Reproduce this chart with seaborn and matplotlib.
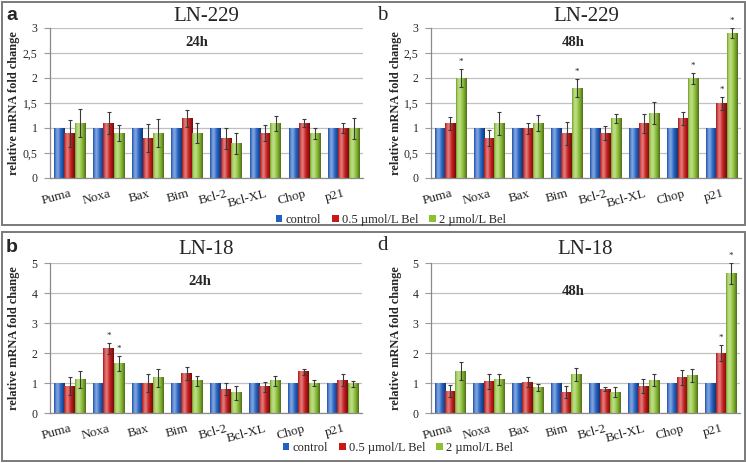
import numpy as np
import pandas as pd
import seaborn as sns
import matplotlib
matplotlib.use("Agg")
import matplotlib.pyplot as plt
from matplotlib.patches import Rectangle
from matplotlib.colors import to_rgb

# ---------------- data ----------------
genes = ["Puma", "Noxa", "Bax", "Bim", "Bcl-2", "Bcl-XL", "Chop", "p21"]
treatments = ["control", "0.5 µmol/L Bel", "2 µmol/L Bel"]
control_vals = [1, 1, 1, 1, 1, 1, 1, 1]

# panel a: LN-229 24h
a_red = [0.9, 1.1, 0.8, 1.2, 0.8, 0.9, 1.1, 1.0]
a_red_err = [0.27, 0.22, 0.28, 0.17, 0.21, 0.16, 0.08, 0.1]
a_green = [1.1, 0.9, 0.9, 0.9, 0.7, 1.1, 0.9, 1.0]
a_green_err = [0.28, 0.16, 0.28, 0.2, 0.21, 0.15, 0.11, 0.21]
a_stars = []

# panel b: LN-229 48h
b_red = [1.1, 0.8, 1.0, 0.9, 0.9, 1.1, 1.2, 1.5]
b_red_err = [0.13, 0.16, 0.11, 0.23, 0.14, 0.19, 0.13, 0.13]
b_green = [2.0, 1.1, 1.1, 1.8, 1.2, 1.3, 2.0, 2.9]
b_green_err = [0.18, 0.23, 0.16, 0.18, 0.09, 0.22, 0.11, 0.1]
b_stars = [(0, 2), (3, 2), (6, 2), (7, 1), (7, 2)]

# panel c: LN-18 24h
c_red = [0.9, 2.15, 1.0, 1.32, 0.8, 0.88, 1.38, 1.1]
c_red_err = [0.3, 0.19, 0.3, 0.22, 0.2, 0.17, 0.1, 0.2]
c_green = [1.13, 1.65, 1.18, 1.07, 0.68, 1.08, 1.0, 0.97]
c_green_err = [0.28, 0.25, 0.3, 0.18, 0.23, 0.17, 0.1, 0.11]
c_stars = [(1, 1), (1, 2)]

# panel d: LN-18 48h
d_red = [0.73, 1.05, 1.03, 0.7, 0.8, 0.9, 1.17, 2.0]
d_red_err = [0.2, 0.24, 0.17, 0.19, 0.08, 0.23, 0.25, 0.27]
d_green = [1.4, 1.12, 0.86, 1.28, 0.7, 1.1, 1.25, 4.65]
d_green_err = [0.3, 0.17, 0.12, 0.22, 0.16, 0.2, 0.21, 0.35]
d_stars = [(7, 1), (7, 2)]

y_ticks_229 = [0, 0.5, 1, 1.5, 2, 2.5, 3]
y_ticklabels_229 = ["0", "0,5", "1", "1,5", "2", "2,5", "3"]
y_ticks_18 = [0, 1, 2, 3, 4, 5]
y_ticklabels_18 = ["0", "1", "2", "3", "4", "5"]

bar_colors = ["#2160c4", "#c81818", "#8cc232"]

SERIF = ["Liberation Serif", "DejaVu Serif"]
SANS = ["Liberation Sans", "DejaVu Sans"]

sns.set_theme(style="white")
plt.rcParams["font.family"] = SERIF

W, H = 746, 463
fig = plt.figure(figsize=(W / 100, H / 100), dpi=100)


def fx(px):
    return px / W


def fy(py):
    return 1 - py / H


def gradient_img(color, n=64):
    base = np.array(to_rgb(color))
    t = np.linspace(0, 1, n)
    light = np.exp(-((t - 0.32) / 0.22) ** 2) * 0.42
    dark = (np.clip(t - 0.55, 0, None) / 0.45) ** 1.5 * 0.45 + (np.clip(0.12 - t, 0, None) / 0.12) * 0.25
    rgb = base[None, :] * (1 - dark[:, None])
    rgb = rgb + (1 - rgb) * light[:, None]
    return np.clip(rgb, 0, 1)[None, :, :]


def panel(rect, red, red_err, green, green_err, stars, ymax, yticks, yticklabels,
          title, title_y, sub, subx, suby):
    ax = fig.add_axes(rect)
    df = pd.DataFrame({
        "gene": genes * 3,
        "treatment": [treatments[0]] * 8 + [treatments[1]] * 8 + [treatments[2]] * 8,
        "value": list(control_vals) + list(red) + list(green),
    })
    sns.barplot(data=df, x="gene", y="value", hue="treatment", order=genes,
                hue_order=treatments, palette=bar_colors, errorbar=None,
                width=0.8, ax=ax, legend=False, linewidth=0, zorder=2)
    errs = [[0] * 8, red_err, green_err]
    vals = [control_vals, red, green]
    centers = {}
    bar_containers = list(ax.containers)
    for hi, cont in enumerate(bar_containers):
        img = gradient_img(bar_colors[hi])
        for gi, bar in enumerate(cont):
            x0, w = bar.get_x(), bar.get_width()
            h = bar.get_height()
            ax.imshow(img, extent=[x0, x0 + w, 0, h], aspect="auto",
                      interpolation="bilinear", zorder=2.5)
            centers[(gi, hi)] = x0 + w / 2
            if hi > 0:
                ax.errorbar(x0 + w / 2, vals[hi][gi], yerr=errs[hi][gi], fmt="none",
                            ecolor="#3a3a3a", elinewidth=0.8, capsize=1.6,
                            capthick=0.8, zorder=4)
    for gi, hi in stars:
        top = vals[hi][gi] + errs[hi][gi]
        ax.text(centers[(gi, hi)], top + ymax * 0.045, "*", ha="center", va="center",
                fontsize=6.5, color="#222", clip_on=False, zorder=5)
    ax.set_xlim(-0.5, 7.5)
    ax.set_ylim(0, ymax)
    ax.set_yticks(yticks)
    ax.set_yticklabels(yticklabels, fontsize=8.5, family=SERIF)
    ax.set_xticks(range(8))
    ax.set_xticklabels(genes, rotation=15, ha="right", rotation_mode="anchor",
                       fontsize=9.5, family=SERIF)
    ax.set_xticks(np.arange(-0.5, 8, 1), minor=True)
    ax.tick_params(axis="x", which="major", length=0, pad=7)
    ax.tick_params(axis="x", which="minor", length=3, color="#888", width=0.8)
    ax.tick_params(axis="y", which="major", length=4, color="#999", width=0.8, pad=5, left=True)
    ax.set_xlabel("")
    ax.set_ylabel("relative mRNA fold change", fontsize=8.9, fontweight="bold", family=SERIF)
    ax.yaxis.set_label_coords(-0.095, 0.5)
    ax.yaxis.grid(True, color="#c0c0c0", linewidth=0.9, zorder=0)
    ax.set_axisbelow(True)
    for s in ["top", "right"]:
        ax.spines[s].set_visible(False)
    for s in ["left", "bottom"]:
        ax.spines[s].set_color("#8a8a8a")
        ax.spines[s].set_linewidth(0.9)
    ax.text(0.5, title_y, title, transform=ax.transAxes, ha="center", va="center",
            fontsize=15, family=SERIF)
    ax.text(subx, suby, sub, transform=ax.transAxes, ha="center", va="center",
            fontsize=10.5, fontweight="bold", family=SERIF)
    return ax


axA = panel([fx(50), fy(178), fx(313), 150 / H], a_red, a_red_err, a_green, a_green_err,
            a_stars, 3, y_ticks_229, y_ticklabels_229, "LN-229", 1.075, "24h", 0.47, 0.9)
axB = panel([fx(431), fy(178), fx(310), 150 / H], b_red, b_red_err, b_green, b_green_err,
            b_stars, 3, y_ticks_229, y_ticklabels_229, "LN-229", 1.075, "48h", 0.46, 0.9)
axC = panel([fx(50), fy(413), fx(312), 150 / H], c_red, c_red_err, c_green, c_green_err,
            c_stars, 5, y_ticks_18, y_ticklabels_18, "LN-18", 1.09, "24h", 0.48, 0.875)
axD = panel([fx(431), fy(413), fx(309), 150 / H], d_red, d_red_err, d_green, d_green_err,
            d_stars, 5, y_ticks_18, y_ticklabels_18, "LN-18", 1.09, "48h", 0.46, 0.81)

# boxes
for (y0, y1) in [(2, 225), (232, 461)]:
    fig.add_artist(Rectangle((fx(2), fy(y1)), fx(743), (y1 - y0) / H,
                             transform=fig.transFigure, fill=False,
                             edgecolor="#7a7a7a", linewidth=1.4))

# panel letters
fig.text(fx(12), fy(15), "a", ha="center", va="center", fontsize=14, fontweight="bold", family=SANS)
fig.text(fx(382), fy(16), "b", ha="center", va="center", fontsize=15, family=SERIF)
fig.text(fx(12), fy(247), "b", ha="center", va="center", fontsize=14, fontweight="bold", family=SANS)
fig.text(fx(382), fy(246), "d", ha="center", va="center", fontsize=15, family=SERIF)

# legends
handles = [Rectangle((0, 0), 1, 1, facecolor=c, edgecolor="none") for c in bar_colors]
for cx, cy in [(391, 220), (398, 448)]:
    fig.legend(handles, treatments, loc="center", bbox_to_anchor=(fx(cx), fy(cy)),
               ncol=3, frameon=False, handlelength=0.5, handleheight=0.5,
               handletextpad=0.25, columnspacing=0.9, prop={"family": SERIF, "size": 9})

fig.savefig("out.png", dpi=100)
